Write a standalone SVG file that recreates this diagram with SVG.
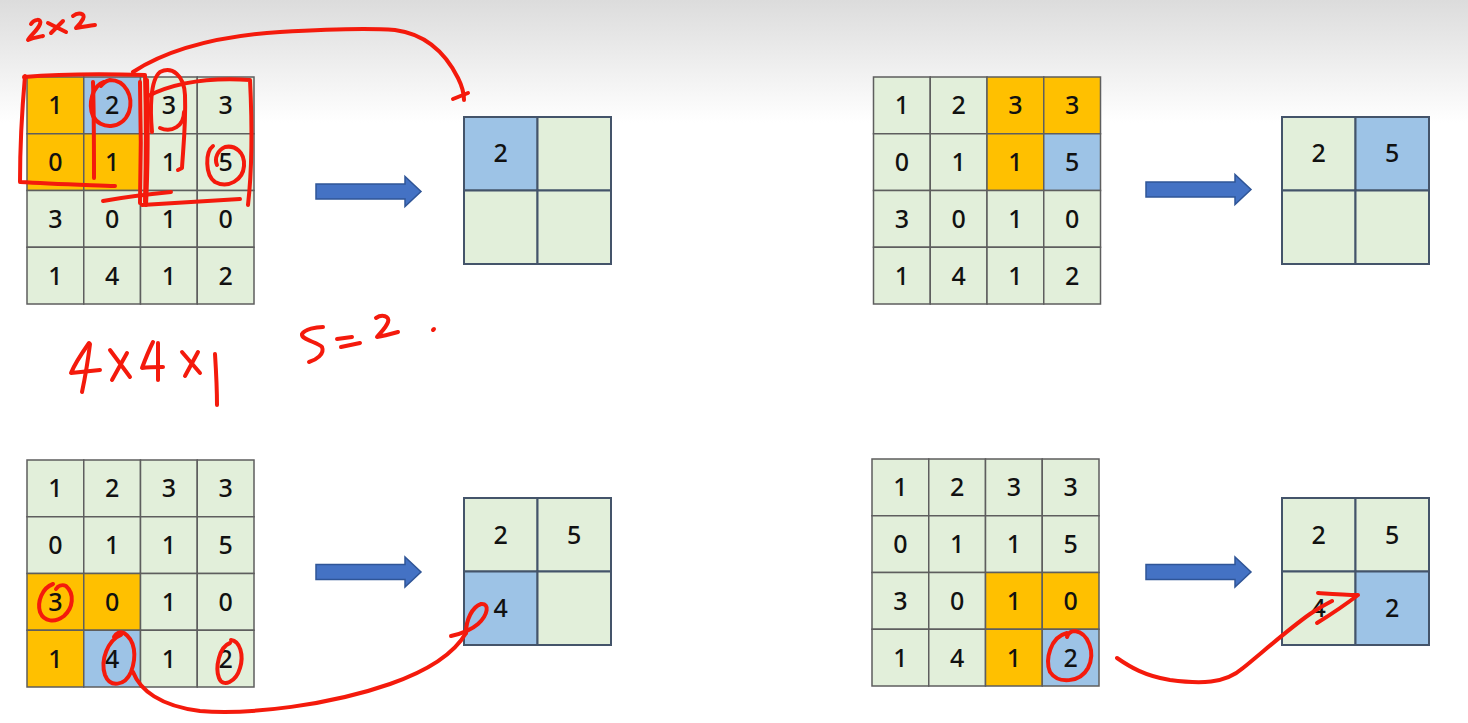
<svg xmlns="http://www.w3.org/2000/svg" width="1468" height="723" viewBox="0 0 1468 723">
<defs>
<linearGradient id="bg" x1="0" y1="0" x2="0" y2="723" gradientUnits="userSpaceOnUse">
<stop offset="0" stop-color="#dcdcdc"/>
<stop offset="0.17" stop-color="#ffffff"/>
<stop offset="1" stop-color="#ffffff"/>
</linearGradient>
<style>
.g{fill:#E2EFDA;stroke:#5E5E5E;stroke-width:1.5}
.o{fill:#FFC000;stroke:#5E5E5E;stroke-width:1.5}
.b{fill:#9DC3E6;stroke:#5E5E5E;stroke-width:1.5}
.og{fill:#E2EFDA;stroke:#44546A;stroke-width:2}
.ob{fill:#9DC3E6;stroke:#44546A;stroke-width:2}
.t{font-family:"Noto Sans","Liberation Sans",sans-serif;font-size:25px;font-weight:500;fill:#111;text-anchor:middle}
.arr{fill:#4472C4;stroke:#2F5597;stroke-width:1.5}
.red{fill:none;stroke:#F41A0C;stroke-width:4;stroke-linecap:round;stroke-linejoin:round}
</style>
<path id="arrowShape" d="M0,-7.5 H89 V-15 L105,0 L89,15 V7.5 H0 Z"/>
</defs>
<rect x="0" y="0" width="1468" height="723" fill="url(#bg)"/>

<!-- Panel 1 -->
<g id="input1" transform="translate(27,77)">
<rect class="o" x="0" y="0" width="56.75" height="56.75"/><rect class="b" x="56.75" y="0" width="56.75" height="56.75"/><rect class="g" x="113.5" y="0" width="56.75" height="56.75"/><rect class="g" x="170.25" y="0" width="56.75" height="56.75"/>
<rect class="o" x="0" y="56.75" width="56.75" height="56.75"/><rect class="o" x="56.75" y="56.75" width="56.75" height="56.75"/><rect class="g" x="113.5" y="56.75" width="56.75" height="56.75"/><rect class="g" x="170.25" y="56.75" width="56.75" height="56.75"/>
<rect class="g" x="0" y="113.5" width="56.75" height="56.75"/><rect class="g" x="56.75" y="113.5" width="56.75" height="56.75"/><rect class="g" x="113.5" y="113.5" width="56.75" height="56.75"/><rect class="g" x="170.25" y="113.5" width="56.75" height="56.75"/>
<rect class="g" x="0" y="170.25" width="56.75" height="56.75"/><rect class="g" x="56.75" y="170.25" width="56.75" height="56.75"/><rect class="g" x="113.5" y="170.25" width="56.75" height="56.75"/><rect class="g" x="170.25" y="170.25" width="56.75" height="56.75"/>
<text class="t" x="28.4" y="37">1</text><text class="t" x="85.1" y="37">2</text><text class="t" x="141.9" y="37">3</text><text class="t" x="198.6" y="37">3</text>
<text class="t" x="28.4" y="94">0</text><text class="t" x="85.1" y="94">1</text><text class="t" x="141.9" y="94">1</text><text class="t" x="198.6" y="94">5</text>
<text class="t" x="28.4" y="150.5">3</text><text class="t" x="85.1" y="150.5">0</text><text class="t" x="141.9" y="150.5">1</text><text class="t" x="198.6" y="150.5">0</text>
<text class="t" x="28.4" y="207.5">1</text><text class="t" x="85.1" y="207.5">4</text><text class="t" x="141.9" y="207.5">1</text><text class="t" x="198.6" y="207.5">2</text>
</g>
<g id="output1" transform="translate(464,117)">
<rect class="ob" x="0" y="0" width="73.5" height="73.5"/><rect class="og" x="73.5" y="0" width="73.5" height="73.5"/>
<rect class="og" x="0" y="73.5" width="73.5" height="73.5"/><rect class="og" x="73.5" y="73.5" width="73.5" height="73.5"/>
<text class="t" x="36.75" y="45">2</text>
</g>

<!-- Panel 2 -->
<g id="input2" transform="translate(873.5,77)">
<rect class="g" x="0" y="0" width="56.75" height="56.75"/><rect class="g" x="56.75" y="0" width="56.75" height="56.75"/><rect class="o" x="113.5" y="0" width="56.75" height="56.75"/><rect class="o" x="170.25" y="0" width="56.75" height="56.75"/>
<rect class="g" x="0" y="56.75" width="56.75" height="56.75"/><rect class="g" x="56.75" y="56.75" width="56.75" height="56.75"/><rect class="o" x="113.5" y="56.75" width="56.75" height="56.75"/><rect class="b" x="170.25" y="56.75" width="56.75" height="56.75"/>
<rect class="g" x="0" y="113.5" width="56.75" height="56.75"/><rect class="g" x="56.75" y="113.5" width="56.75" height="56.75"/><rect class="g" x="113.5" y="113.5" width="56.75" height="56.75"/><rect class="g" x="170.25" y="113.5" width="56.75" height="56.75"/>
<rect class="g" x="0" y="170.25" width="56.75" height="56.75"/><rect class="g" x="56.75" y="170.25" width="56.75" height="56.75"/><rect class="g" x="113.5" y="170.25" width="56.75" height="56.75"/><rect class="g" x="170.25" y="170.25" width="56.75" height="56.75"/>
<text class="t" x="28.4" y="37">1</text><text class="t" x="85.1" y="37">2</text><text class="t" x="141.9" y="37">3</text><text class="t" x="198.6" y="37">3</text>
<text class="t" x="28.4" y="94">0</text><text class="t" x="85.1" y="94">1</text><text class="t" x="141.9" y="94">1</text><text class="t" x="198.6" y="94">5</text>
<text class="t" x="28.4" y="150.5">3</text><text class="t" x="85.1" y="150.5">0</text><text class="t" x="141.9" y="150.5">1</text><text class="t" x="198.6" y="150.5">0</text>
<text class="t" x="28.4" y="207.5">1</text><text class="t" x="85.1" y="207.5">4</text><text class="t" x="141.9" y="207.5">1</text><text class="t" x="198.6" y="207.5">2</text>
</g>
<g id="output2" transform="translate(1282,117)">
<rect class="og" x="0" y="0" width="73.5" height="73.5"/><rect class="ob" x="73.5" y="0" width="73.5" height="73.5"/>
<rect class="og" x="0" y="73.5" width="73.5" height="73.5"/><rect class="og" x="73.5" y="73.5" width="73.5" height="73.5"/>
<text class="t" x="36.75" y="45">2</text><text class="t" x="110.25" y="45">5</text>
</g>

<!-- Panel 3 -->
<g id="input3" transform="translate(27,460)">
<rect class="g" x="0" y="0" width="56.75" height="56.75"/><rect class="g" x="56.75" y="0" width="56.75" height="56.75"/><rect class="g" x="113.5" y="0" width="56.75" height="56.75"/><rect class="g" x="170.25" y="0" width="56.75" height="56.75"/>
<rect class="g" x="0" y="56.75" width="56.75" height="56.75"/><rect class="g" x="56.75" y="56.75" width="56.75" height="56.75"/><rect class="g" x="113.5" y="56.75" width="56.75" height="56.75"/><rect class="g" x="170.25" y="56.75" width="56.75" height="56.75"/>
<rect class="o" x="0" y="113.5" width="56.75" height="56.75"/><rect class="o" x="56.75" y="113.5" width="56.75" height="56.75"/><rect class="g" x="113.5" y="113.5" width="56.75" height="56.75"/><rect class="g" x="170.25" y="113.5" width="56.75" height="56.75"/>
<rect class="o" x="0" y="170.25" width="56.75" height="56.75"/><rect class="b" x="56.75" y="170.25" width="56.75" height="56.75"/><rect class="g" x="113.5" y="170.25" width="56.75" height="56.75"/><rect class="g" x="170.25" y="170.25" width="56.75" height="56.75"/>
<text class="t" x="28.4" y="37">1</text><text class="t" x="85.1" y="37">2</text><text class="t" x="141.9" y="37">3</text><text class="t" x="198.6" y="37">3</text>
<text class="t" x="28.4" y="94">0</text><text class="t" x="85.1" y="94">1</text><text class="t" x="141.9" y="94">1</text><text class="t" x="198.6" y="94">5</text>
<text class="t" x="28.4" y="150.5">3</text><text class="t" x="85.1" y="150.5">0</text><text class="t" x="141.9" y="150.5">1</text><text class="t" x="198.6" y="150.5">0</text>
<text class="t" x="28.4" y="207.5">1</text><text class="t" x="85.1" y="207.5">4</text><text class="t" x="141.9" y="207.5">1</text><text class="t" x="198.6" y="207.5">2</text>
</g>
<g id="output3" transform="translate(464,498)">
<rect class="og" x="0" y="0" width="73.5" height="73.5"/><rect class="og" x="73.5" y="0" width="73.5" height="73.5"/>
<rect class="ob" x="0" y="73.5" width="73.5" height="73.5"/><rect class="og" x="73.5" y="73.5" width="73.5" height="73.5"/>
<text class="t" x="36.75" y="46">2</text><text class="t" x="110.25" y="46">5</text>
<text class="t" x="36.75" y="119">4</text>
</g>

<!-- Panel 4 -->
<g id="input4" transform="translate(872,459)">
<rect class="g" x="0" y="0" width="56.75" height="56.75"/><rect class="g" x="56.75" y="0" width="56.75" height="56.75"/><rect class="g" x="113.5" y="0" width="56.75" height="56.75"/><rect class="g" x="170.25" y="0" width="56.75" height="56.75"/>
<rect class="g" x="0" y="56.75" width="56.75" height="56.75"/><rect class="g" x="56.75" y="56.75" width="56.75" height="56.75"/><rect class="g" x="113.5" y="56.75" width="56.75" height="56.75"/><rect class="g" x="170.25" y="56.75" width="56.75" height="56.75"/>
<rect class="g" x="0" y="113.5" width="56.75" height="56.75"/><rect class="g" x="56.75" y="113.5" width="56.75" height="56.75"/><rect class="o" x="113.5" y="113.5" width="56.75" height="56.75"/><rect class="o" x="170.25" y="113.5" width="56.75" height="56.75"/>
<rect class="g" x="0" y="170.25" width="56.75" height="56.75"/><rect class="g" x="56.75" y="170.25" width="56.75" height="56.75"/><rect class="o" x="113.5" y="170.25" width="56.75" height="56.75"/><rect class="b" x="170.25" y="170.25" width="56.75" height="56.75"/>
<text class="t" x="28.4" y="37">1</text><text class="t" x="85.1" y="37">2</text><text class="t" x="141.9" y="37">3</text><text class="t" x="198.6" y="37">3</text>
<text class="t" x="28.4" y="94">0</text><text class="t" x="85.1" y="94">1</text><text class="t" x="141.9" y="94">1</text><text class="t" x="198.6" y="94">5</text>
<text class="t" x="28.4" y="150.5">3</text><text class="t" x="85.1" y="150.5">0</text><text class="t" x="141.9" y="150.5">1</text><text class="t" x="198.6" y="150.5">0</text>
<text class="t" x="28.4" y="207.5">1</text><text class="t" x="85.1" y="207.5">4</text><text class="t" x="141.9" y="207.5">1</text><text class="t" x="198.6" y="207.5">2</text>
</g>
<g id="output4" transform="translate(1282,498)">
<rect class="og" x="0" y="0" width="73.5" height="73.5"/><rect class="og" x="73.5" y="0" width="73.5" height="73.5"/>
<rect class="og" x="0" y="73.5" width="73.5" height="73.5"/><rect class="ob" x="73.5" y="73.5" width="73.5" height="73.5"/>
<text class="t" x="36.75" y="46">2</text><text class="t" x="110.25" y="46">5</text>
<text class="t" x="36.75" y="119">4</text><text class="t" x="110.25" y="119">2</text>
</g>

<!-- Connectors (block arrows) -->
<g id="connectors">
<use href="#arrowShape" class="arr" transform="translate(316,191.5)"/>
<use href="#arrowShape" class="arr" transform="translate(1146,189.5)"/>
<use href="#arrowShape" class="arr" transform="translate(316,572)"/>
<use href="#arrowShape" class="arr" transform="translate(1146,572)"/>
</g>

<!-- Red handwritten annotations -->
<g id="annotations" class="red">
<!-- 2x2 -->
<path d="M31,24 C34,19 42,18 40,24 C38,30 30,36 28,40 C32,38 38,37 43,36"/>
<path d="M48,23 L66,32 M51,33 L63,21"/>
<path d="M73,16 C78,12 86,13 83,19 C81,23 78,26 76,28 C82,27 88,26 95,25"/>
<!-- window rectangle 1 -->
<path d="M24,77 C60,74 110,74 145,75 C146,110 146,160 145,202"/>
<path d="M25,76 C22,110 20,150 20,182 C50,184 90,185 115,186"/>
<path d="M93,82 C94,115 94,150 94,178"/>
<!-- circle around 2 -->
<path d="M104,82 C92,86 88,104 93,116 C100,130 122,130 129,112 C134,96 125,80 110,80 C106,81 103,83 101,86"/>
<!-- window rectangle 2 -->
<path d="M140,82 C141,120 141,165 140,203"/>
<path d="M147,80 C148,120 148,165 146,205"/>
<path d="M148,96 C180,80 220,78 250,80 C252,120 252,170 248,205"/>
<path d="M142,205 C175,203 210,201 240,199"/>
<path d="M103,201 C125,197 150,194 171,192"/>
<!-- oval around 3 and 1 -->
<path d="M152,132 C150,110 150,80 160,72 C172,66 184,75 185,95 C186,125 183,150 182,168 L178,170"/>
<path d="M160,128 C172,133 184,126 184,112"/>
<!-- circle around 5 -->
<path d="M213,146 C205,152 205,175 215,182 C228,189 243,180 244,166 C245,152 235,145 225,147 C218,150 214,158 217,165"/>
<!-- curve to output -->
<path d="M133,72 C170,48 220,36 280,32 C330,29 370,28 395,30 C425,34 445,52 458,78 C462,86 464,93 464,100"/>
<path d="M453,99 C458,97 463,95 468,93"/>
<!-- 4x4x1 -->
<path d="M89,343 C82,353 75,363 71,373 C80,372 90,371 100,370"/>
<path d="M90,344 C88,360 85,378 82,392"/>
<path d="M110,350 L130,377 M127,353 L112,380"/>
<path d="M153,342 C149,350 145,360 142,368 C149,367 156,367 163,367"/>
<path d="M158,343 L158,380"/>
<path d="M182,352 L200,373 M198,352 L185,376"/>
<path d="M215,354 C216,370 217,390 217,405"/>
<!-- S=2 -->
<path d="M323,327 C316,327 305,329 302,334 C301,340 318,342 322,347 C325,354 316,360 309,362"/>
<path d="M337,339 L352,337 M341,347 L360,343"/>
<path d="M376,318 C382,314 390,316 388,322 C386,328 380,333 377,337 C384,336 391,334 398,332"/>
<path d="M433,330 L434,329"/>
<!-- panel 3 -->
<path d="M53,584 C42,588 37,602 40,612 C44,622 55,623 64,616 C73,608 75,594 66,586 C62,584 58,586 56,589"/>
<path d="M121,635 C108,640 100,660 105,675 C110,688 125,686 131,672 C137,656 135,640 124,633 C120,631 116,633 114,637"/>
<path d="M133,672 C140,690 160,706 200,711 C250,715 330,705 390,684 C430,670 455,652 466,633"/>
<path d="M466,633 C466,620 472,607 481,604 C490,603 488,615 478,624 C470,631 460,634 451,636"/>
<path d="M230,643 C219,647 215,668 219,678 C223,688 236,682 240,668 C244,655 240,641 231,640"/>
<!-- panel 4 -->
<path d="M1067,633 C1050,637 1045,660 1050,672 C1058,684 1080,683 1088,668 C1096,652 1088,633 1075,631 C1070,631 1068,634 1067,637"/>
<path d="M1117,658 C1130,667 1145,676 1170,680 C1200,684 1225,684 1243,668 C1265,650 1290,628 1310,614 C1320,607 1326,604 1332,601"/>
<path d="M1318,593 C1332,594 1345,595 1358,595 C1345,605 1330,615 1317,623"/>
</g>
</svg>
